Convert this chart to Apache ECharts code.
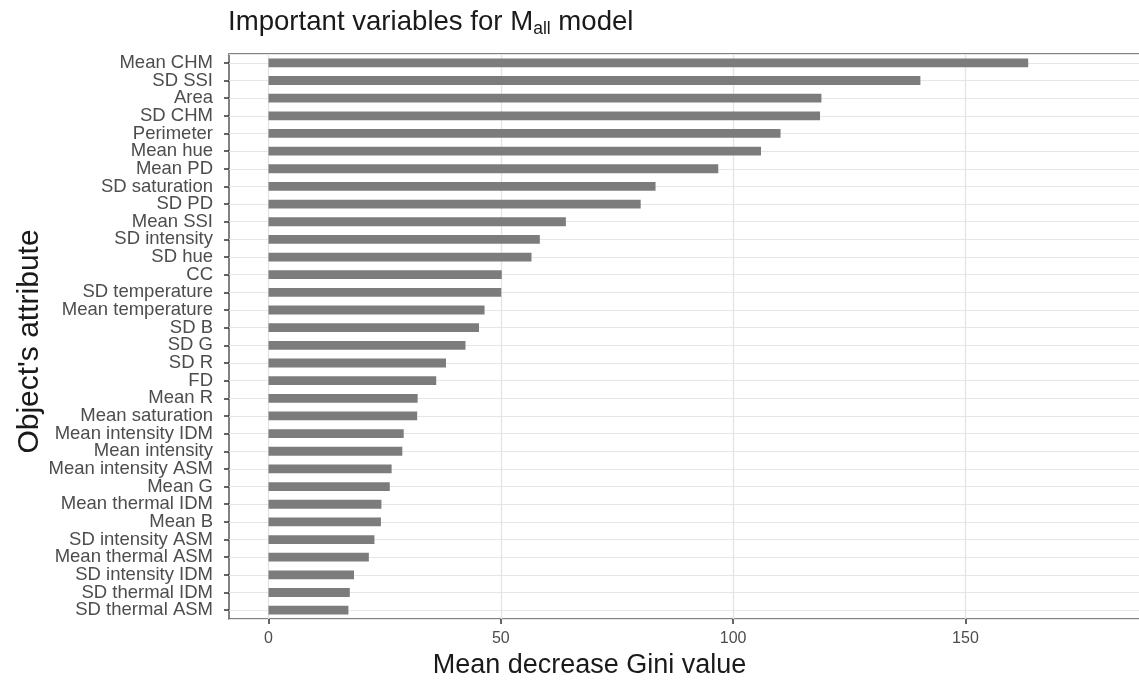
<!DOCTYPE html>
<html>
<head>
<meta charset="utf-8">
<script src="https://cdn.jsdelivr.net/npm/echarts@6/dist/echarts.min.js"></script>
<style>
html,body{margin:0;padding:0;background:#fff;}
#chart{width:1139px;height:680px;}
</style>
</head>
<body>
<div id="chart"></div>
<script>
const categories = [
  "Mean CHM","SD SSI","Area","SD CHM","Perimeter","Mean hue","Mean PD","SD saturation",
  "SD PD","Mean SSI","SD intensity","SD hue","CC","SD temperature","Mean temperature","SD B",
  "SD G","SD R","FD","Mean R","Mean saturation","Mean intensity IDM","Mean intensity",
  "Mean intensity ASM","Mean G","Mean thermal IDM","Mean B","SD intensity ASM",
  "Mean thermal ASM","SD intensity IDM","SD thermal IDM","SD thermal ASM"
];
const giniValues = [
  163.5,140.3,119.0,118.7,110.2,106.0,96.8,83.3,
  80.1,64.0,58.4,56.6,50.2,50.1,46.5,45.3,
  42.4,38.2,36.1,32.1,32.0,29.1,28.8,
  26.5,26.1,24.3,24.2,22.8,
  21.6,18.4,17.5,17.2
];
const xTicks = [0, 50, 100, 150];
const xTickStep = 50;

const FONT = "'Liberation Sans', Arial, Helvetica, sans-serif";
const chart = echarts.init(document.getElementById('chart'), null, {renderer: 'canvas'});
chart.setOption({
  animation: false,
  backgroundColor: '#ffffff',
  title: {
    text: 'Important variables for M{sub|all} model',
    left: 223,
    top: 2,
    textStyle: {
      fontFamily: FONT, fontSize: 27.6, fontWeight: 'normal', color: '#1a1a1a',
      rich: {
        sub: {fontFamily: FONT, fontSize: 17.5, color: '#1a1a1a', padding: [13, 0, 0, 0]}
      }
    }
  },
  grid: {
    left: 229, top: 54, bottom: 61, width: 920,
    outerBoundsMode: 'none', containLabel: false,
    show: true, borderColor: '#5a5a5a', borderWidth: 1.5, backgroundColor: '#ffffff'
  },
  xAxis: {
    type: 'value',
    min: -8.5, max: 189.5,
    splitNumber: 4, minInterval: xTickStep, maxInterval: xTickStep,
    name: 'Mean decrease Gini value',
    nameLocation: 'middle',
    nameGap: 33,
    nameMoveOverlap: false,
    nameTextStyle: {fontFamily: FONT, fontSize: 27, color: '#1a1a1a', padding: [0, 199, 0, 0]},
    axisLine: {show: false, onZero: false},
    axisTick: {show: true, customValues: xTicks, length: 5, lineStyle: {color: '#333', width: 1.5}},
    axisLabel: {
      customValues: xTicks,
      fontFamily: FONT, fontSize: 16, color: '#4d4d4d', margin: 12
    },
    splitLine: {show: true, lineStyle: {color: '#e4e4e4', width: 1.3}}
  },
  yAxis: [{
    type: 'category',
    data: categories,
    inverse: true,
    name: "Object's attribute",
    nameLocation: 'middle',
    nameGap: 184,
    nameMoveOverlap: false,
    nameTextStyle: {fontFamily: FONT, fontSize: 30, color: '#1a1a1a', padding: [0, 10, 0, 0]},
    axisLine: {show: false, onZero: false},
    axisTick: {show: true, alignWithLabel: true, length: 5, lineStyle: {color: '#333', width: 1.5}},
    axisLabel: {interval: 0, fontFamily: FONT, fontSize: 18.5, color: '#4d4d4d', margin: 16},
    splitLine: {show: false}
  }, {
    type: 'value',
    position: 'left',
    min: -0.5, max: categories.length - 0.5,
    minInterval: 1, maxInterval: 1,
    inverse: true,
    axisLine: {show: false, onZero: false}, axisTick: {show: false}, axisLabel: {show: false},
    splitLine: {show: true, lineStyle: {color: '#e6e6e6', width: 1.2}}
  }],
  series: [{
    type: 'bar',
    yAxisIndex: 0,
    data: giniValues,
    barWidth: '50%',
    itemStyle: {color: '#7c7c7c'},
    z: 3
  }]
});
</script>
</body>
</html>
